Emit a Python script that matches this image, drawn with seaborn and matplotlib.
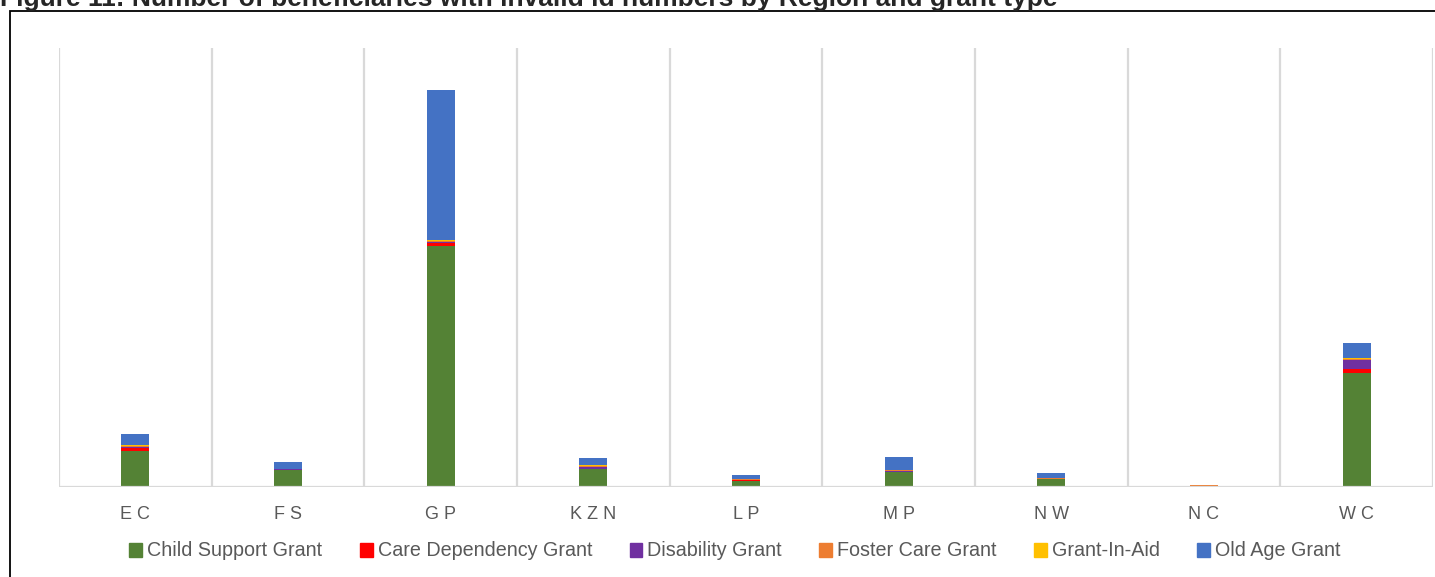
import matplotlib.pyplot as plt
import matplotlib.patches as mpatches
import seaborn as sns
import numpy as np
import pandas as pd

sns.set_style("white")
plt.rcParams['font.family'] = ['Liberation Sans', 'DejaVu Sans']

regions = ['EC', 'FS', 'GP', 'KZN', 'LP', 'MP', 'NW', 'NC', 'WC']
grants = ['Child Support Grant', 'Care Dependency Grant', 'Disability Grant',
          'Foster Care Grant', 'Grant-In-Aid', 'Old Age Grant']
colors = ['#548235', '#ff0000', '#7030a0', '#ed7d31', '#ffc000', '#4472c4']

# estimated counts (no axis values in the source)
child_support = [360, 170, 2410, 180, 65, 150, 80, 5, 1140]
care_dependency = [30, 3, 30, 5, 5, 3, 2, 4, 40]
disability = [15, 5, 15, 20, 2, 5, 2, 5, 95]
foster_care = [5, 3, 5, 5, 5, 10, 10, 4, 3]
grant_in_aid = [10, 2, 10, 10, 1, 2, 1, 1, 13]
old_age = [110, 65, 1500, 70, 40, 130, 45, 2, 150]

df = pd.DataFrame({'Region': regions,
                   grants[0]: child_support,
                   grants[1]: care_dependency,
                   grants[2]: disability,
                   grants[3]: foster_care,
                   grants[4]: grant_in_aid,
                   grants[5]: old_age})
cum = df[grants].cumsum(axis=1)
cum['Region'] = [' '.join(r) for r in df['Region']]

fig = plt.figure(figsize=(14.35, 5.77), dpi=100)
ax = fig.add_axes([59 / 1435, 90 / 577, 1374 / 1435, 439 / 577])

# draw from the full stack down so each lower layer sits on top
for g, c in reversed(list(zip(grants, colors))):
    sns.barplot(x='Region', y=g, data=cum, color=c, width=0.185, saturation=1,
                linewidth=0, ax=ax, zorder=3)

ax.set_xlim(-0.5, len(regions) - 0.5)
ax.set_ylim(0, 4390)
for xb in np.arange(-0.5, len(regions), 1.0):
    ax.axvline(xb, color='#d9d9d9', lw=1.6, zorder=1)
ax.axhline(0, color='#d9d9d9', lw=1.6, zorder=4)
ax.set_yticks([])
ax.set_xlabel('')
ax.set_ylabel('')
ax.tick_params(axis='x', length=0, pad=14, labelsize=13, labelcolor='#595959')
for s in ax.spines.values():
    s.set_visible(False)

handles = [mpatches.Patch(color=c, label=g) for g, c in zip(grants, colors)]
fig.legend(handles=handles, loc='center', bbox_to_anchor=(735 / 1435, 1 - 551 / 577),
           ncol=6, frameon=False, fontsize=14.2, handlelength=0.65, handleheight=0.7,
           handletextpad=0.25, columnspacing=1.9, labelcolor='#595959')

fig.text(0.0, 1 - 6 / 577, 'Figure 11: Number of beneficiaries with invalid id numbers by Region and grant type',
         fontsize=19, fontweight='bold', ha='left', va='baseline')
fig.patches.append(mpatches.Rectangle((10 / 1435, -0.1), 1.2, 1.1 - 11 / 577,
                                      transform=fig.transFigure, fill=False,
                                      edgecolor='black', lw=1.3))

fig.savefig('out.png', dpi=100)
